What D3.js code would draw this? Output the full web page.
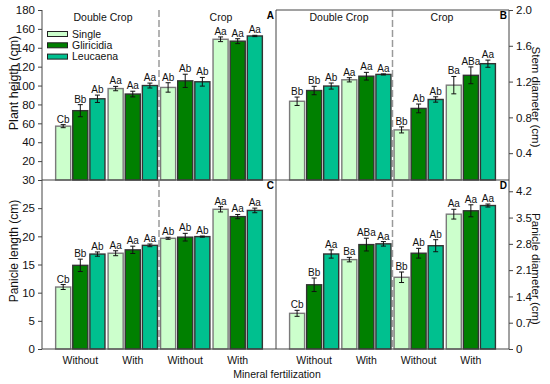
<!DOCTYPE html>
<html>
<head>
<meta charset="utf-8">
<script src="https://cdn.jsdelivr.net/npm/d3@7"></script>
<style>
body { margin: 0; background: #fff; }
svg { font-family: "Liberation Sans", Arial, sans-serif; }
</style>
</head>
<body>
<svg width="550" height="384"></svg>
<script>
var groups = ["Without", "With", "Without", "With"];
var crops = ["Double Crop", "Crop"];
var series = ["Single", "Gliricidia", "Leucaena"];

// each row = one group (Without/With x Double Crop/Crop), cols = Single, Gliricidia, Leucaena
var heightMean = [[57, 73.4, 86], [96.8, 91, 100], [98, 105, 104], [149, 147, 152.5]];
var heightErr = [[1.6, 6.4, 3.9], [2.3, 3, 2.6], [5, 7, 4.6], [2.5, 2.6, 0.7]];
var heightLetters = [["Cb", "Bb", "Ab"], ["Aa", "Aa", "Aa"], ["Ab", "Ab", "Ab"], ["Aa", "Aa", "Aa"]];

var stemMean = [[0.98, 1.10, 1.15], [1.22, 1.26, 1.28], [0.66, 0.90, 1.00], [1.16, 1.27, 1.40]];
var stemErr = [[0.047, 0.047, 0.034], [0.024, 0.043, 0.006], [0.034, 0.049, 0.03], [0.097, 0.094, 0.04]];
var stemLetters = [["Bb", "Bb", "Ab"], ["Aa", "Aa", "Aa"], ["Bb", "Ab", "Ab"], ["Ba", "ABa", "Aa"]];

var lengthMean = [[11, 14.85, 16.85], [17, 17.6, 18.4], [19.65, 19.85, 19.95], [24.8, 23.5, 24.6]];
var lengthErr = [[0.44, 1.1, 0.38], [0.44, 0.65, 0.24], [0.18, 0.68, 0.1], [0.47, 0.38, 0.41]];
var lengthLetters = [["Cb", "Bb", "Ab"], ["Aa", "Aa", "Aa"], ["Ab", "Ab", "Ab"], ["Aa", "Aa", "Aa"]];

var diamMean = [[0.95, 1.71, 2.53], [2.38, 2.78, 2.80], [1.91, 2.55, 2.75], [3.59, 3.68, 3.82]];
var diamErr = [[0.08, 0.18, 0.11], [0.06, 0.17, 0.06], [0.14, 0.13, 0.16], [0.13, 0.16, 0.04]];
var diamLetters = [["Cb", "Bb", "Aa"], ["Ba", "ABa", "Aa"], ["Bb", "Ab", "Ab"], ["Aa", "Aa", "Aa"]];

var heightTicks = [20, 40, 60, 80, 100, 120, 140, 160, 180];
var stemTicks = [0.4, 0.8, 1.2, 1.6, 2.0];
var lengthTicks = [0, 5, 10, 15, 20, 25, 30];
var diamTicks = [0, 0.7, 1.4, 2.1, 2.8, 3.5, 4.2];

var colors = ["#ccffcc", "#008000", "#00c08f"];
var outlines = ["#7a7a7a", "#333", "#333"];

var svg = d3.select("svg");

var colX = [[42, 276], [276, 509]];
var rowY = [[10, 180], [180, 349]];
var headerX = [[103, 221], [339, 442]];

var f1 = d3.format(".1f");

var panels = [
  {mean: heightMean, err: heightErr, letters: heightLetters, col: 0, row: 0, domain: [0, 180], ticks: heightTicks, fmt: d3.format("d"), tag: "A"},
  {mean: stemMean, err: stemErr, letters: stemLetters, col: 1, row: 0, domain: [0.1, 2.0], ticks: stemTicks, fmt: f1, tag: "B"},
  {mean: lengthMean, err: lengthErr, letters: lengthLetters, col: 0, row: 1, domain: [0, 30], ticks: lengthTicks, fmt: d3.format("d"), tag: "C"},
  {mean: diamMean, err: diamErr, letters: diamLetters, col: 1, row: 1, domain: [0, 4.5], ticks: diamTicks, fmt: function(d) { return d === 0 ? "0" : f1(d); }, tag: "D"}
];

function xScale(col) {
  return d3.scaleBand().domain(d3.range(groups.length)).range(colX[col]).paddingInner(0.06).paddingOuter(0.26);
}

// dashed separators between Double Crop and Crop
[0, 1].forEach(function(col) {
  var x = xScale(col);
  var xm = (x(1) + x.bandwidth() + x(2)) / 2;
  svg.append("line")
    .attr("x1", xm).attr("x2", xm)
    .attr("y1", 10).attr("y2", 349)
    .attr("stroke", "#9a9a9a").attr("stroke-width", 1.5)
    .attr("stroke-dasharray", "7,3");
});

panels.forEach(function(p) {
  var x = xScale(p.col);
  var xi = d3.scaleBand().domain(series).range([0, x.bandwidth()]).paddingInner(0.12);
  var y = d3.scaleLinear().domain(p.domain).range([rowY[p.row][1], rowY[p.row][0]]);
  var base = rowY[p.row][1];

  var g = svg.append("g");
  var rows = [];
  p.mean.forEach(function(m, gi) {
    m.forEach(function(v, si) {
      rows.push({g: gi, s: si, v: v, e: p.err[gi][si], l: p.letters[gi][si]});
    });
  });

  var bar = g.selectAll("g.bar").data(rows).enter().append("g")
    .attr("transform", function(d) { return "translate(" + (x(d.g) + xi(series[d.s])) + ",0)"; });

  bar.append("rect")
    .attr("x", 0)
    .attr("width", xi.bandwidth())
    .attr("y", function(d) { return y(d.v); })
    .attr("height", function(d) { return base - y(d.v); })
    .attr("fill", function(d) { return colors[d.s]; })
    .attr("stroke", function(d) { return outlines[d.s]; }).attr("stroke-width", 1.4);

  var cx = xi.bandwidth() / 2;
  bar.append("path")
    .attr("d", function(d) {
      var t = y(d.v + d.e), b = y(d.v - d.e);
      return "M" + cx + "," + t + "V" + b +
        "M" + (cx - 2.5) + "," + t + "H" + (cx + 2.5) +
        "M" + (cx - 2.5) + "," + b + "H" + (cx + 2.5);
    })
    .attr("stroke", "#111").attr("stroke-width", 1).attr("fill", "none");

  bar.append("text")
    .attr("x", cx)
    .attr("y", function(d) { return y(d.v + d.e) - 2; })
    .attr("text-anchor", "middle")
    .attr("font-size", 10)
    .attr("fill", "#111")
    .text(function(d) { return d.l; });

  // axis
  var ax = p.col === 0 ? d3.axisLeft(y) : d3.axisRight(y);
  ax.tickValues(p.ticks).tickFormat(p.fmt).tickSizeInner(4).tickSizeOuter(0).tickPadding(3);
  var axg = svg.append("g")
    .attr("transform", "translate(" + (p.col === 0 ? colX[0][0] : colX[1][1]) + ",0)")
    .call(ax);
  axg.select(".domain").remove();
  axg.selectAll("line").attr("stroke", "#444");
  axg.selectAll("text").attr("font-size", 11.5).attr("fill", "#111")
    .attr("font-family", "Liberation Sans, Arial, sans-serif");

  // panel tag
  svg.append("text")
    .attr("x", colX[p.col][1] - 2)
    .attr("y", rowY[p.row][0] + 9)
    .attr("text-anchor", "end")
    .attr("font-size", 10).attr("font-weight", "bold")
    .text(p.tag);

  if (p.row === 0) {
    crops.forEach(function(c, i) {
      svg.append("text")
        .attr("x", headerX[p.col][i]).attr("y", 20.5)
        .attr("text-anchor", "middle")
        .attr("font-size", 10.5).attr("fill", "#111")
        .text(c);
    });
  } else {
    groups.forEach(function(gname, i) {
      svg.append("text")
        .attr("x", x(i) + x.bandwidth() / 2).attr("y", 363.5)
        .attr("text-anchor", "middle")
        .attr("font-size", 10.5).attr("fill", "#111")
        .text(gname);
    });
  }
});

// frame lines
var frame = svg.append("g").attr("stroke", "#444").attr("stroke-width", 1).attr("fill", "none");
frame.append("line").attr("x1", 42).attr("x2", 42).attr("y1", 10).attr("y2", 349);
frame.append("line").attr("x1", 509).attr("x2", 509).attr("y1", 10).attr("y2", 349);
frame.append("line").attr("x1", 276).attr("x2", 276).attr("y1", 10).attr("y2", 349);
frame.append("line").attr("x1", 42).attr("x2", 509).attr("y1", 180).attr("y2", 180);
frame.append("line").attr("x1", 42).attr("x2", 509).attr("y1", 349).attr("y2", 349);
frame.append("line").attr("x1", 276).attr("x2", 509).attr("y1", 10).attr("y2", 10);

// legend
var legend = svg.append("g");
series.forEach(function(s, i) {
  legend.append("rect")
    .attr("x", 47.5).attr("y", 31.5 + i * 11.3)
    .attr("width", 20).attr("height", 5)
    .attr("fill", colors[i]).attr("stroke", "#222").attr("stroke-width", 1);
  legend.append("text")
    .attr("x", 72).attr("y", 37.8 + i * 11.3)
    .attr("font-size", 10.5).attr("fill", "#111")
    .text(s);
});

// axis titles
svg.append("text")
  .attr("transform", "translate(18,83) rotate(-90)")
  .attr("text-anchor", "middle").attr("font-size", 12.5).attr("fill", "#111")
  .text("Plant heigth (cm)");
svg.append("text")
  .attr("transform", "translate(18,251) rotate(-90)")
  .attr("text-anchor", "middle").attr("font-size", 12).attr("fill", "#111")
  .text("Panicle length (cm)");
svg.append("text")
  .attr("transform", "translate(532,97) rotate(90)")
  .attr("text-anchor", "middle").attr("font-size", 11.5).attr("fill", "#111")
  .text("Stem diameter (cm)");
svg.append("text")
  .attr("transform", "translate(532,269) rotate(90)")
  .attr("text-anchor", "middle").attr("font-size", 11.5).attr("fill", "#111")
  .text("Panicle diameter (cm)");

svg.append("text")
  .attr("x", 277).attr("y", 378)
  .attr("text-anchor", "middle").attr("font-size", 10.5).attr("fill", "#111")
  .text("Mineral fertilization");
</script>
</body>
</html>
